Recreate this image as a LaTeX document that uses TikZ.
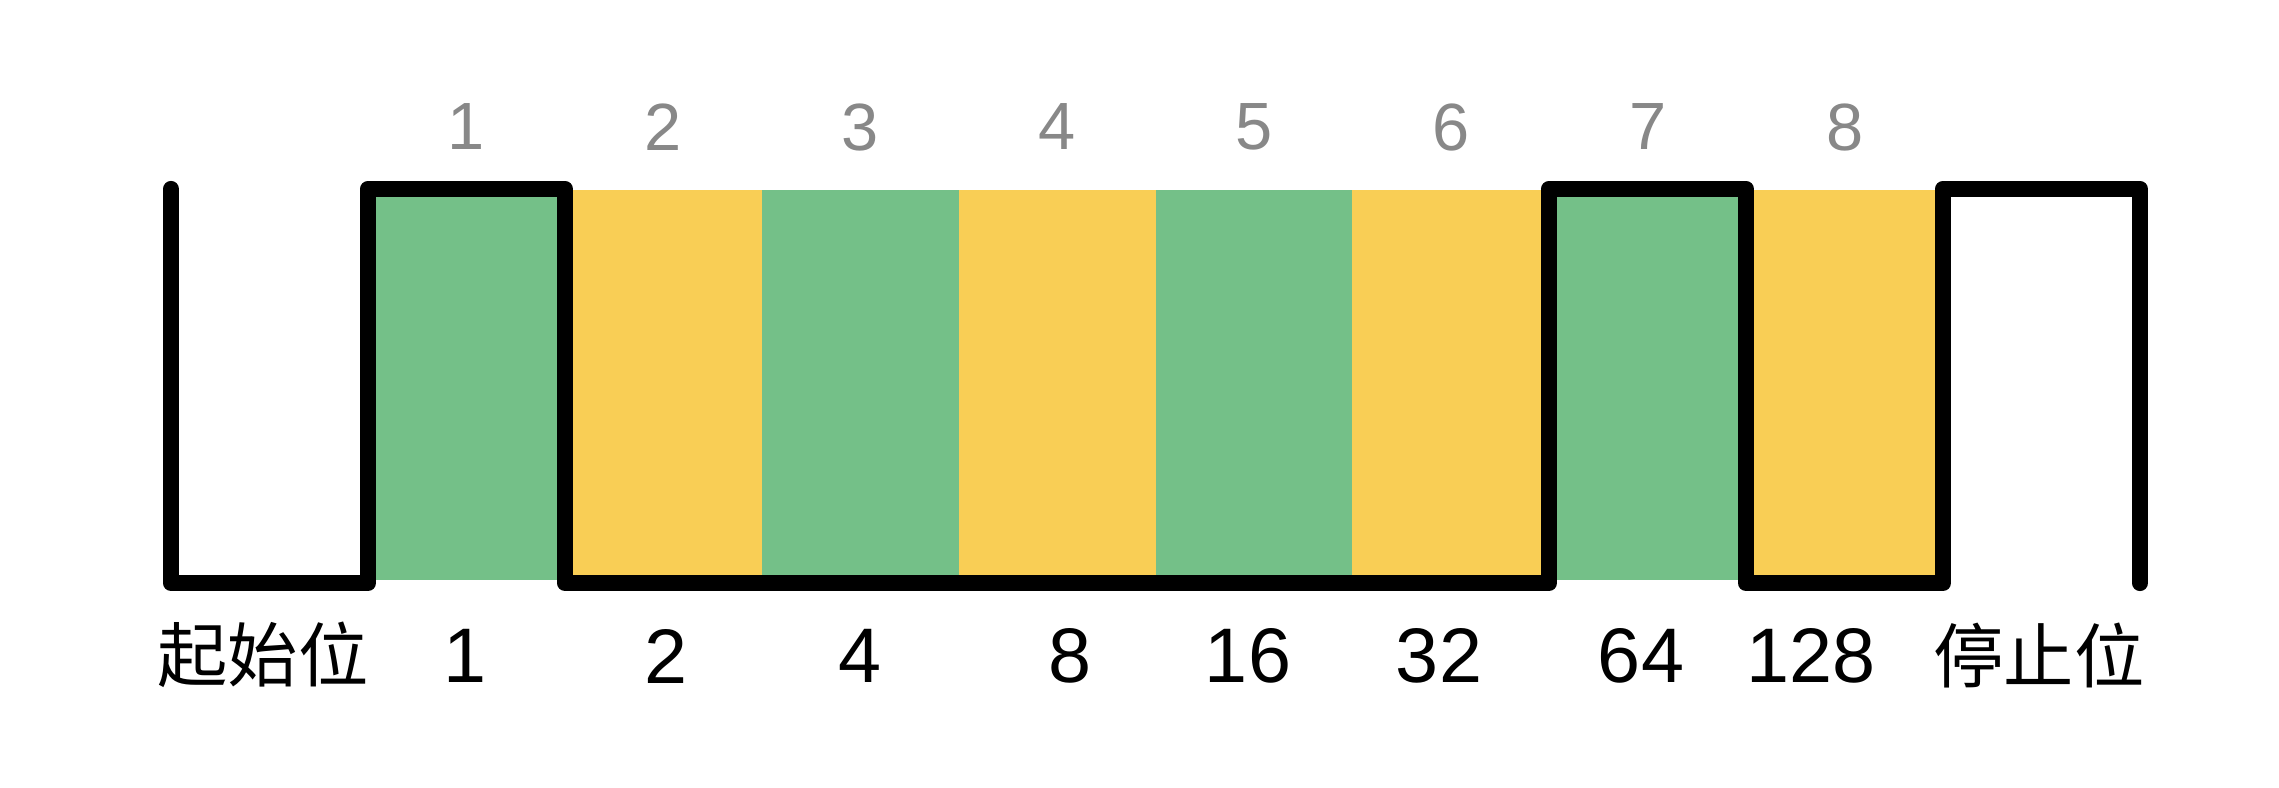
\documentclass[tikz,border=0pt]{standalone}
\usepackage{fontspec}
\setmainfont{Liberation Sans}
\newfontfamily\cjkfont{Noto Sans CJK SC}
\usetikzlibrary{positioning}
\definecolor{bitgreen}{RGB}{116,192,136}
\definecolor{bityellow}{RGB}{249,206,85}
\definecolor{idxgray}{RGB}{136,136,136}

\begin{document}
\begin{tikzpicture}[x=0.01cm,y=-0.01cm,
  wave/.style={line width=4.6pt,line cap=round,line join=round},
  idx/.style={font=\fontsize{19}{19}\selectfont,text=idxgray},
  weight/.style={font=\fontsize{22}{22}\selectfont},
  edgelabel/.style={font=\cjkfont\fontsize{20}{20}\selectfont}]
\useasboundingbox (0,0) rectangle (2279,788);
% data cells
\foreach \i/\col in {1/bitgreen,2/bityellow,3/bitgreen,4/bityellow,5/bitgreen,6/bityellow,7/bitgreen,8/bityellow}{
  \fill[\col] ({171+196.9*\i},190) rectangle ({171+196.9*(\i+1)},580);
  \node[idx] (idx\i) at ({171+196.9*(\i+0.5)},127) {\i};
}
% waveform
\draw[wave] (171,189) -- (171,583) -- (368,583) -- (368,189) -- (565,189) -- (565,583)
  -- (1549,583) -- (1549,189) -- (1746,189) -- (1746,583) -- (1943,583) -- (1943,189)
  -- (2140,189) -- (2140,583);
% labels below
\node[edgelabel] (start) at (263,655) {起始位};
\node[weight] (w1) at (465,656) {1};
\node[weight] (w2) at (666,656) {2};
\node[weight] (w4) at (860,656) {4};
\node[weight] (w8) at (1070,656) {8};
\node[weight] (w16) at (1248,656) {16};
\node[weight] (w32) at (1439,656) {32};
\node[weight] (w64) at (1641,656) {64};
\node[weight] (w128) at (1811,656) {128};
\node[edgelabel] (stop) at (2039,655) {停止位};
\end{tikzpicture}
\end{document}
